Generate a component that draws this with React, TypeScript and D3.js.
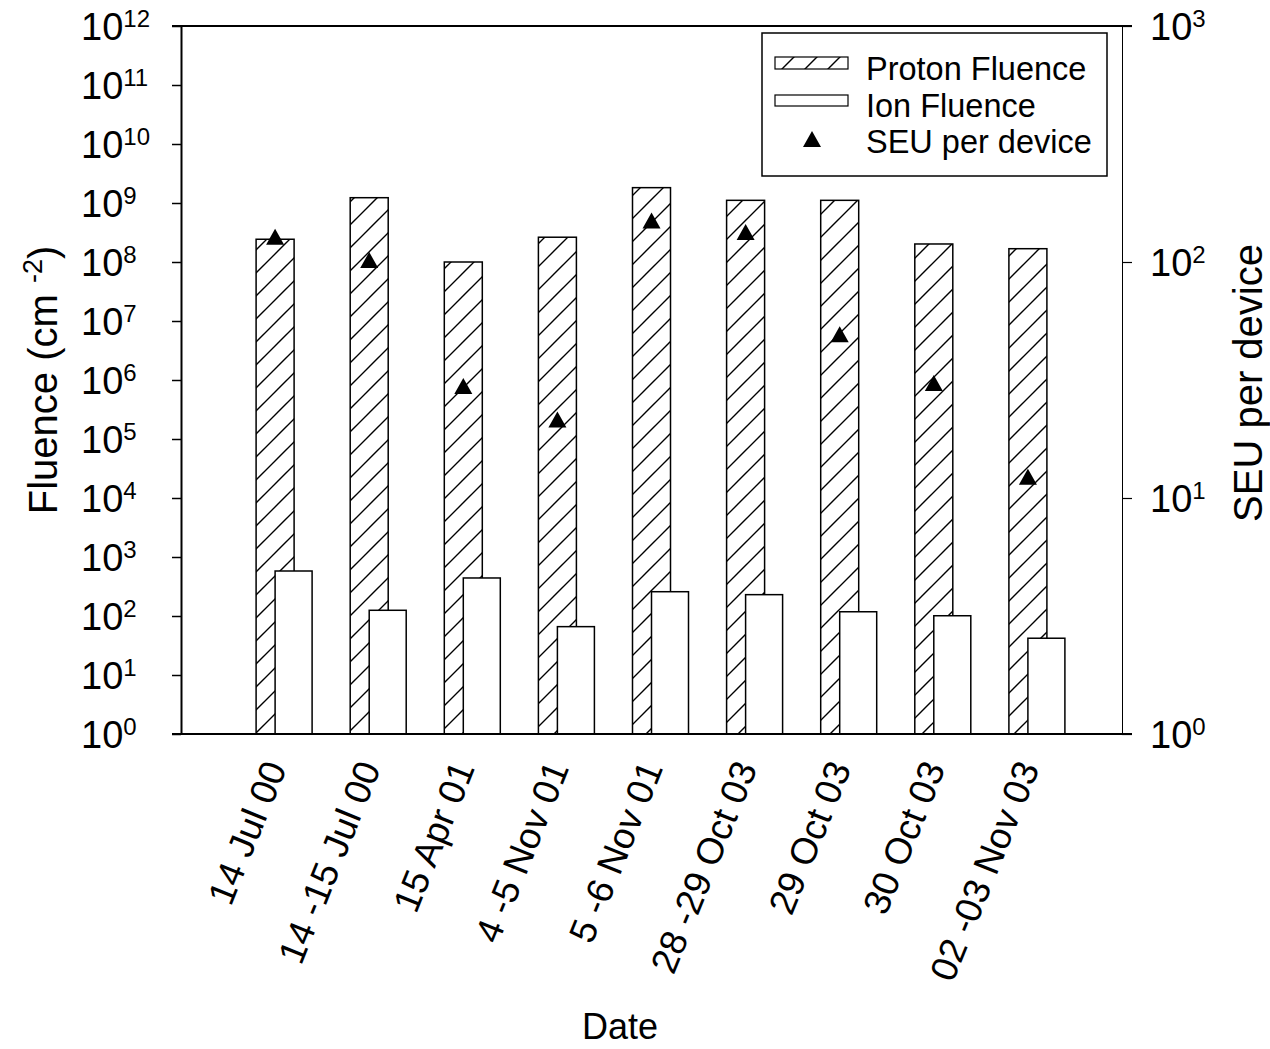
import React, { useRef, useEffect } from 'react';
import * as d3 from 'd3';

// event dates (x categories)
const categories = [
  '14 Jul 00',
  '14 -15 Jul 00',
  '15 Apr 01',
  '4 -5 Nov 01',
  '5 -6 Nov 01',
  '28 -29 Oct 03',
  '29 Oct 03',
  '30 Oct 03',
  '02 -03 Nov 03',
];

// fluence in cm^-2 (left axis)
const protonFluence = [2.43e8, 1.23e9, 1.0e8, 2.63e8, 1.82e9, 1.11e9, 1.11e9, 2.02e8, 1.68e8];
const ionFluence = [579, 125, 441, 66, 258, 230, 118, 101, 42];

// SEU per device (right axis)
const seuPerDevice = [128, 102, 29.8, 21.5, 150, 134, 49.4, 30.7, 12.3];

// decade exponents for the tick labels
const leftExponents = [0, 1, 2, 3, 4, 5, 6, 7, 8, 9, 10, 11, 12];
const rightExponents = [0, 1, 2, 3];

const legendItems = ['Proton Fluence', 'Ion Fluence', 'SEU per device'];

const WIDTH = 1270;
const HEIGHT = 1049;
const margin = { top: 26, right: 148, bottom: 315, left: 181 };
const FONT = '"Liberation Sans", Arial, Helvetica, sans-serif';

function SeuChart() {
  const svgRef = useRef<SVGSVGElement>(null);

  useEffect(() => {
    const svg = d3.select(svgRef.current);
    svg.selectAll('*').remove();

    const xLeft = margin.left;
    const xRight = WIDTH - margin.right;
    const yTop = margin.top;
    const yBot = HEIGHT - margin.bottom;

    const x = d3.scalePoint<string>().domain(categories).range([xLeft, xRight]).padding(1);
    const yL = d3.scaleLog().domain([1, 1e12]).range([yBot, yTop]);
    const yR = d3.scaleLog().domain([1, 1e3]).range([yBot, yTop]);

    // hatch pattern for proton bars
    const pat = svg.append('defs').append('pattern')
      .attr('id', 'hatch')
      .attr('patternUnits', 'userSpaceOnUse')
      .attr('width', 23)
      .attr('height', 23);
    pat.append('rect').attr('width', 23).attr('height', 23).attr('fill', '#fff');
    pat.append('path')
      .attr('d', 'M-3,3 L3,-3 M0,23 L23,0 M20,26 L26,20')
      .attr('stroke', '#000')
      .attr('stroke-width', 1.4);

    const barW = 38;

    // proton bars
    svg.append('g').selectAll('rect')
      .data(categories)
      .join('rect')
      .attr('x', c => (x(c) as number) - barW / 2)
      .attr('y', (c, i) => yL(protonFluence[i]))
      .attr('width', barW)
      .attr('height', (c, i) => yBot - yL(protonFluence[i]))
      .attr('fill', 'url(#hatch)')
      .attr('stroke', '#000')
      .attr('stroke-width', 1.5);

    // ion bars (drawn in front, offset right)
    svg.append('g').selectAll('rect')
      .data(categories)
      .join('rect')
      .attr('x', c => x(c) as number)
      .attr('y', (c, i) => yL(ionFluence[i]))
      .attr('width', barW - 1)
      .attr('height', (c, i) => yBot - yL(ionFluence[i]))
      .attr('fill', '#fff')
      .attr('stroke', '#000')
      .attr('stroke-width', 1.5);

    // SEU triangles
    const tri = (cx: number, cy: number) =>
      `M${cx},${cy - 8}L${cx + 9},${cy + 8}L${cx - 9},${cy + 8}Z`;
    svg.append('g').selectAll('path')
      .data(categories)
      .join('path')
      .attr('d', (c, i) => tri(x(c) as number, yR(seuPerDevice[i])))
      .attr('fill', '#000');

    // left axis
    const leftAxis = svg.append('g')
      .attr('transform', `translate(${xLeft},0)`)
      .call(d3.axisLeft(yL)
        .tickValues(leftExponents.map(e => 10 ** e))
        .tickSize(9)
        .tickSizeOuter(0)
        .tickFormat(() => ''));
    leftAxis.select('.domain').attr('stroke-width', 2);
    leftAxis.selectAll('.tick line').attr('stroke-width', 1.5);

    // right axis
    const rightAxis = svg.append('g')
      .attr('transform', `translate(${xRight},0)`)
      .call(d3.axisRight(yR)
        .tickValues(rightExponents.map(e => 10 ** e))
        .tickSize(10)
        .tickSizeOuter(0)
        .tickFormat(() => ''));
    rightAxis.select('.domain').attr('stroke-width', 1);
    rightAxis.selectAll('.tick line').attr('stroke-width', 1.2);

    // top and bottom frame lines
    [yTop, yBot].forEach(yy => {
      svg.append('line')
        .attr('x1', xLeft - 9).attr('x2', xRight + 10)
        .attr('y1', yy).attr('y2', yy)
        .attr('stroke', '#000').attr('stroke-width', 2);
    });

    // tick labels (powers of ten)
    const powLabel = (g: any, xPos: number, yPos: number, e: number) => {
      const t = g.append('text')
        .attr('x', xPos).attr('y', yPos + 14)
        .attr('font-family', FONT).attr('font-size', 38).attr('fill', '#000');
      t.append('tspan').text('10');
      t.append('tspan').attr('dy', -13).attr('font-size', 24).text(String(e));
    };
    const lbls = svg.append('g');
    leftExponents.forEach(e => powLabel(lbls, 81, yL(10 ** e), e));
    rightExponents.forEach(e => powLabel(lbls, 1150, yR(10 ** e), e));

    // category labels
    svg.append('g').selectAll('text')
      .data(categories)
      .join('text')
      .attr('transform', c => `translate(${(x(c) as number) + 12},768) rotate(-68)`)
      .attr('text-anchor', 'end')
      .attr('font-family', FONT)
      .attr('font-size', 37)
      .text(c => c);

    // axis titles
    svg.append('text')
      .attr('x', 620).attr('y', 1039)
      .attr('text-anchor', 'middle')
      .attr('font-family', FONT).attr('font-size', 36)
      .text('Date');

    const yt = svg.append('text')
      .attr('transform', 'translate(57,380) rotate(-90)')
      .attr('text-anchor', 'middle')
      .attr('font-family', FONT).attr('font-size', 40);
    yt.append('tspan').text('Fluence (cm ');
    yt.append('tspan').attr('dy', -15).attr('font-size', 27).text('-2');
    yt.append('tspan').attr('dy', 15).text(')');

    svg.append('text')
      .attr('transform', 'translate(1262,383) rotate(-90)')
      .attr('text-anchor', 'middle')
      .attr('font-family', FONT).attr('font-size', 40)
      .text('SEU per device');

    // legend
    const lg = svg.append('g');
    lg.append('rect')
      .attr('x', 762).attr('y', 33).attr('width', 345).attr('height', 143)
      .attr('fill', '#fff').attr('stroke', '#000').attr('stroke-width', 1.5);
    lg.append('rect')
      .attr('x', 775).attr('y', 57).attr('width', 73).attr('height', 12)
      .attr('fill', 'url(#hatch)').attr('stroke', '#000').attr('stroke-width', 1.2);
    lg.append('rect')
      .attr('x', 775).attr('y', 95).attr('width', 73).attr('height', 11)
      .attr('fill', '#fff').attr('stroke', '#000').attr('stroke-width', 1.2);
    lg.append('path').attr('d', tri(812, 139)).attr('fill', '#000');
    lg.selectAll('text.item')
      .data(legendItems)
      .join('text')
      .attr('class', 'item')
      .attr('x', 866)
      .attr('y', (d, i) => 80 + i * 36.5)
      .attr('font-family', FONT).attr('font-size', 32.5)
      .text(d => d);
  }, []);

  return (
    <svg
      ref={svgRef}
      width={WIDTH}
      height={HEIGHT}
      style={{ position: 'absolute', left: 0, top: 0, background: '#fff', display: 'block' }}
    />
  );
}

export default function App() {
  return <SeuChart />;
}
